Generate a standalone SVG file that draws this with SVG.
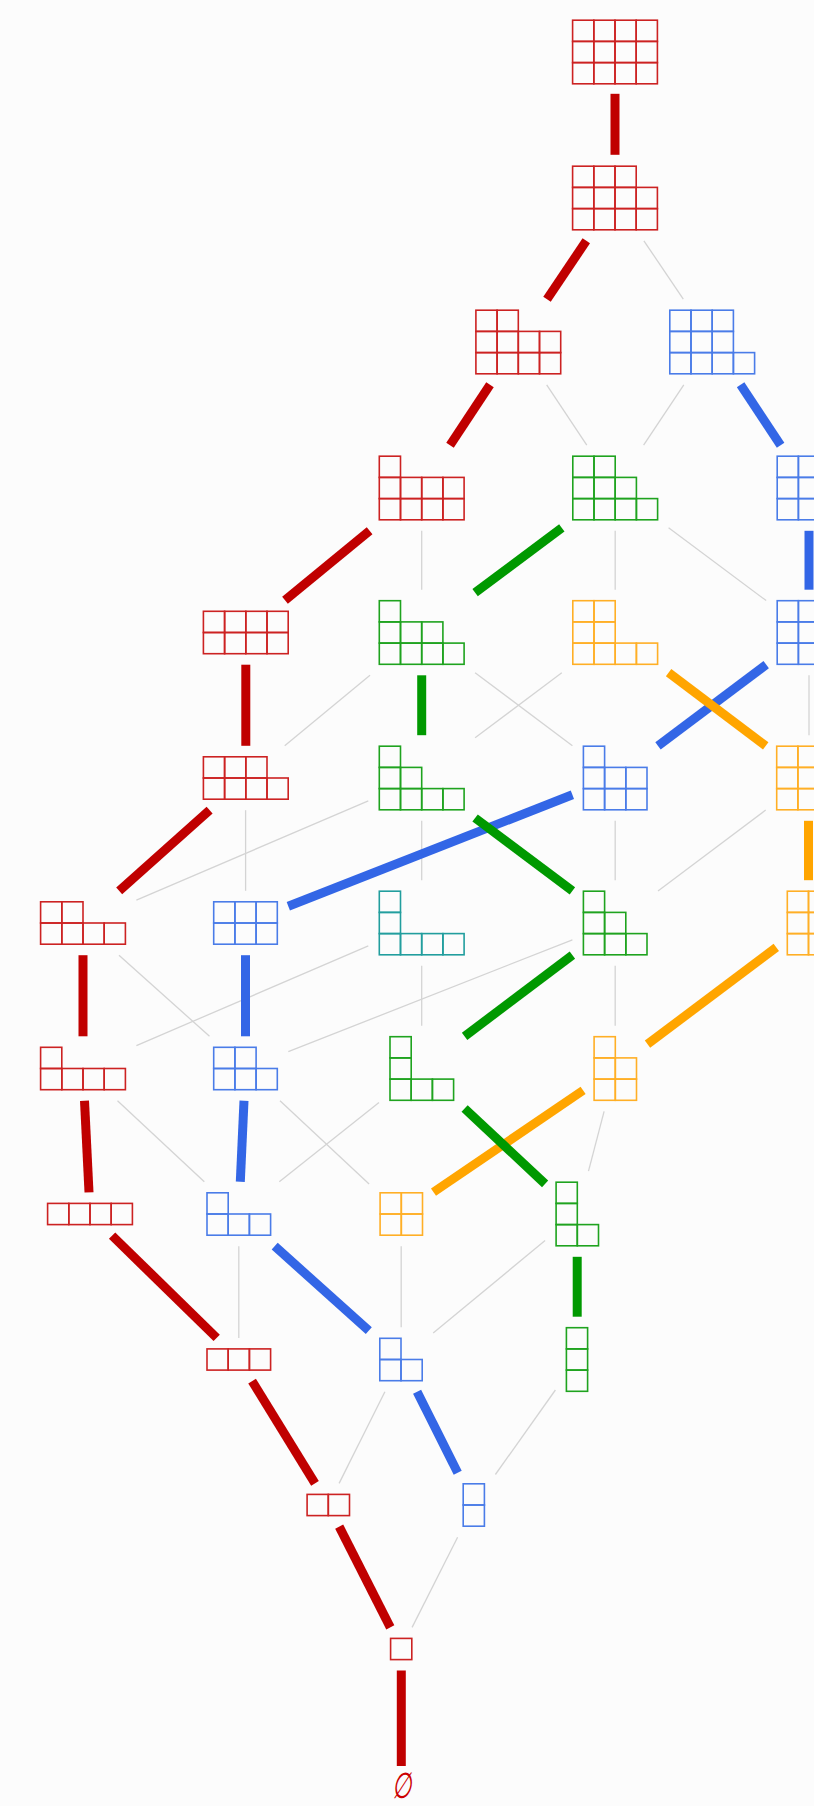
<svg xmlns="http://www.w3.org/2000/svg" xmlns:xlink="http://www.w3.org/1999/xlink" width="814" height="1806" viewBox="0 0 814 1806">
<style>
.n{fill:none;stroke-width:1.6}
.red{stroke:#cc2222}
.blue{stroke:#4a7ce8}
.green{stroke:#1fa31f}
.orange{stroke:#ffaf26}
.teal{stroke:#229e9e}
.g line{stroke:#d4d4d4;stroke-width:1.3}
.t{fill:none;stroke-width:9;stroke-linecap:butt}
.er{stroke:#c00000}
.eb{stroke:#3366e6}
.eg{stroke:#009900}
.eo{stroke:#ffa500}
.lbl{font-family:"Liberation Serif","DejaVu Serif",serif;font-size:36px;fill:#cc0000;font-style:italic}
</style>
<defs>
<rect id="c" width="21.2" height="21.2"/>
<g id="r1"><use xlink:href="#c"/></g>
<g id="r2"><use xlink:href="#c"/><use xlink:href="#c" x="21.2"/></g>
<g id="r3"><use xlink:href="#c"/><use xlink:href="#c" x="21.2"/><use xlink:href="#c" x="42.4"/></g>
<g id="r4"><use xlink:href="#c"/><use xlink:href="#c" x="21.2"/><use xlink:href="#c" x="42.4"/><use xlink:href="#c" x="63.6"/></g>
</defs>
<rect width="814" height="1806" fill="#fcfcfc"/>
<g id="connectors">
<g class="g">
<line x1="643.9" y1="240.8" x2="683.3" y2="299.2"/>
<line x1="546.7" y1="384.8" x2="586.8" y2="445.2"/>
<line x1="683.8" y1="384.8" x2="643.6" y2="445.2"/>
<line x1="421.7" y1="530.8" x2="421.7" y2="589.7"/>
<line x1="615.2" y1="530.8" x2="615.2" y2="589.7"/>
<line x1="668.6" y1="527.8" x2="766.2" y2="600.6"/>
<line x1="370" y1="675.3" x2="284.7" y2="745.8"/>
<line x1="475.1" y1="672.7" x2="572.4" y2="745.8"/>
<line x1="561.8" y1="672.7" x2="475.1" y2="737.8"/>
<line x1="809" y1="675.3" x2="809" y2="735.2"/>
<line x1="245.6" y1="810.2" x2="245.6" y2="890.8"/>
<line x1="368.3" y1="800.9" x2="136.4" y2="900.1"/>
<line x1="421.7" y1="820.8" x2="421.7" y2="880.2"/>
<line x1="615.2" y1="820.8" x2="615.2" y2="880.2"/>
<line x1="765.7" y1="810.1" x2="658" y2="890.9"/>
<line x1="119" y1="955.2" x2="209.5" y2="1036.3"/>
<line x1="368.3" y1="945.9" x2="136.4" y2="1045.6"/>
<line x1="421.7" y1="965.8" x2="421.7" y2="1025.7"/>
<line x1="572.4" y1="939.8" x2="288.3" y2="1051.7"/>
<line x1="615.2" y1="965.8" x2="615.2" y2="1025.7"/>
<line x1="117.5" y1="1100.7" x2="204.3" y2="1181.8"/>
<line x1="280" y1="1100.7" x2="369.1" y2="1183.9"/>
<line x1="379" y1="1102.5" x2="279.3" y2="1181.8"/>
<line x1="604.1" y1="1111.3" x2="588.5" y2="1171.2"/>
<line x1="238.8" y1="1246.2" x2="238.8" y2="1337.9"/>
<line x1="401.2" y1="1246.2" x2="401.2" y2="1327.3"/>
<line x1="545.1" y1="1240.6" x2="433.2" y2="1332.9"/>
<line x1="384.9" y1="1391.7" x2="339.1" y2="1483.4"/>
<line x1="555.4" y1="1390" x2="495.4" y2="1474.5"/>
<line x1="457.6" y1="1537.2" x2="412.1" y2="1627.4"/>
</g>
<g class="t eb">
<line x1="740.6" y1="384.8" x2="780.6" y2="445.2"/>
<line x1="809" y1="530.8" x2="809" y2="589.7"/>
<line x1="766.2" y1="664.6" x2="658" y2="745.9"/>
<line x1="572.4" y1="794.8" x2="288.3" y2="906.2"/>
<line x1="245.5" y1="955.2" x2="245.5" y2="1036.3"/>
<line x1="244" y1="1100.7" x2="240.3" y2="1181.8"/>
<line x1="274.7" y1="1246.2" x2="368.8" y2="1330.6"/>
<line x1="417.1" y1="1391.7" x2="457.7" y2="1472.8"/>
</g>
<g class="t eo">
<line x1="668.6" y1="672.7" x2="765.7" y2="745.8"/>
<line x1="808.5" y1="820.8" x2="808.5" y2="880.2"/>
<line x1="776.3" y1="947.3" x2="647.5" y2="1044.2"/>
<line x1="583.1" y1="1090.4" x2="433.5" y2="1192.1"/>
</g>
<g class="t eg">
<line x1="561.8" y1="527.9" x2="475.1" y2="592.6"/>
<line x1="421.7" y1="675.3" x2="421.7" y2="735.2"/>
<line x1="475.1" y1="818" x2="572.4" y2="890.9"/>
<line x1="572.4" y1="955.2" x2="464.6" y2="1036.3"/>
<line x1="464.6" y1="1108.5" x2="545.1" y2="1183.9"/>
<line x1="577.2" y1="1256.8" x2="577.2" y2="1316.7"/>
</g>
<g class="t er">
<line x1="615" y1="93.8" x2="615" y2="154.8"/>
<line x1="586.3" y1="240.8" x2="547" y2="299.2"/>
<line x1="490" y1="384.8" x2="450" y2="445.2"/>
<line x1="369.6" y1="530.8" x2="285" y2="600.3"/>
<line x1="245.8" y1="664.7" x2="245.8" y2="745.8"/>
<line x1="209.6" y1="810.2" x2="119.2" y2="890.8"/>
<line x1="83" y1="955.2" x2="83" y2="1036.3"/>
<line x1="84.5" y1="1100.7" x2="89" y2="1192.4"/>
<line x1="112.1" y1="1235.6" x2="216.7" y2="1337.9"/>
<line x1="252.1" y1="1381.1" x2="315" y2="1483.4"/>
<line x1="339.2" y1="1526.6" x2="390.3" y2="1627.4"/>
<line x1="401.3" y1="1670.6" x2="401.3" y2="1766"/>
</g>
</g>
<g id="p444" class="n red"><use xlink:href="#r4" x="572.6" y="62.6"/><use xlink:href="#r4" x="572.6" y="41.4"/><use xlink:href="#r4" x="572.6" y="20.2"/></g>
<g id="p443" class="n red"><use xlink:href="#r4" x="572.6" y="208.6"/><use xlink:href="#r4" x="572.6" y="187.4"/><use xlink:href="#r3" x="572.6" y="166.2"/></g>
<g id="p442" class="n red"><use xlink:href="#r4" x="475.9" y="352.6"/><use xlink:href="#r4" x="475.9" y="331.4"/><use xlink:href="#r2" x="475.9" y="310.2"/></g>
<g id="p433" class="n blue"><use xlink:href="#r4" x="669.8" y="352.6"/><use xlink:href="#r3" x="669.8" y="331.4"/><use xlink:href="#r3" x="669.8" y="310.2"/></g>
<g id="p441" class="n red"><use xlink:href="#r4" x="379.3" y="498.6"/><use xlink:href="#r4" x="379.3" y="477.4"/><use xlink:href="#r1" x="379.3" y="456.2"/></g>
<g id="p432" class="n green"><use xlink:href="#r4" x="572.8" y="498.6"/><use xlink:href="#r3" x="572.8" y="477.4"/><use xlink:href="#r2" x="572.8" y="456.2"/></g>
<g id="p333" class="n blue"><use xlink:href="#r3" x="777.2" y="498.6"/><use xlink:href="#r3" x="777.2" y="477.4"/><use xlink:href="#r3" x="777.2" y="456.2"/></g>
<g id="p44" class="n red"><use xlink:href="#r4" x="203.4" y="632.5"/><use xlink:href="#r4" x="203.4" y="611.3"/></g>
<g id="p431" class="n green"><use xlink:href="#r4" x="379.3" y="643.1"/><use xlink:href="#r3" x="379.3" y="621.9"/><use xlink:href="#r1" x="379.3" y="600.7"/></g>
<g id="p422" class="n orange"><use xlink:href="#r4" x="572.8" y="643.1"/><use xlink:href="#r2" x="572.8" y="621.9"/><use xlink:href="#r2" x="572.8" y="600.7"/></g>
<g id="p332" class="n blue"><use xlink:href="#r3" x="777.2" y="643.1"/><use xlink:href="#r3" x="777.2" y="621.9"/><use xlink:href="#r2" x="777.2" y="600.7"/></g>
<g id="p43" class="n red"><use xlink:href="#r4" x="203.4" y="778"/><use xlink:href="#r3" x="203.4" y="756.8"/></g>
<g id="p421" class="n green"><use xlink:href="#r4" x="379.3" y="788.6"/><use xlink:href="#r2" x="379.3" y="767.4"/><use xlink:href="#r1" x="379.3" y="746.2"/></g>
<g id="p331" class="n blue"><use xlink:href="#r3" x="583.4" y="788.6"/><use xlink:href="#r3" x="583.4" y="767.4"/><use xlink:href="#r1" x="583.4" y="746.2"/></g>
<g id="p322" class="n orange"><use xlink:href="#r3" x="776.7" y="788.6"/><use xlink:href="#r2" x="776.7" y="767.4"/><use xlink:href="#r2" x="776.7" y="746.2"/></g>
<g id="p42" class="n red"><use xlink:href="#r4" x="40.6" y="923"/><use xlink:href="#r2" x="40.6" y="901.8"/></g>
<g id="p33" class="n blue"><use xlink:href="#r3" x="213.7" y="923"/><use xlink:href="#r3" x="213.7" y="901.8"/></g>
<g id="p411" class="n teal"><use xlink:href="#r4" x="379.3" y="933.6"/><use xlink:href="#r1" x="379.3" y="912.4"/><use xlink:href="#r1" x="379.3" y="891.2"/></g>
<g id="p321" class="n green"><use xlink:href="#r3" x="583.4" y="933.6"/><use xlink:href="#r2" x="583.4" y="912.4"/><use xlink:href="#r1" x="583.4" y="891.2"/></g>
<g id="p222" class="n orange"><use xlink:href="#r2" x="787.3" y="933.6"/><use xlink:href="#r2" x="787.3" y="912.4"/><use xlink:href="#r2" x="787.3" y="891.2"/></g>
<g id="p41" class="n red"><use xlink:href="#r4" x="40.6" y="1068.5"/><use xlink:href="#r1" x="40.6" y="1047.3"/></g>
<g id="p32" class="n blue"><use xlink:href="#r3" x="213.7" y="1068.5"/><use xlink:href="#r2" x="213.7" y="1047.3"/></g>
<g id="p311" class="n green"><use xlink:href="#r3" x="390" y="1079.1"/><use xlink:href="#r1" x="390" y="1057.9"/><use xlink:href="#r1" x="390" y="1036.7"/></g>
<g id="p221" class="n orange"><use xlink:href="#r2" x="594.1" y="1079.1"/><use xlink:href="#r2" x="594.1" y="1057.9"/><use xlink:href="#r1" x="594.1" y="1036.7"/></g>
<g id="p4" class="n red"><use xlink:href="#r4" x="47.6" y="1203.4"/></g>
<g id="p31" class="n blue"><use xlink:href="#r3" x="207" y="1214"/><use xlink:href="#r1" x="207" y="1192.8"/></g>
<g id="p22" class="n orange"><use xlink:href="#r2" x="380.1" y="1214"/><use xlink:href="#r2" x="380.1" y="1192.8"/></g>
<g id="p211" class="n green"><use xlink:href="#r2" x="556.1" y="1224.6"/><use xlink:href="#r1" x="556.1" y="1203.4"/><use xlink:href="#r1" x="556.1" y="1182.2"/></g>
<g id="p3" class="n red"><use xlink:href="#r3" x="207" y="1348.9"/></g>
<g id="p21" class="n blue"><use xlink:href="#r2" x="379.8" y="1359.5"/><use xlink:href="#r1" x="379.8" y="1338.3"/></g>
<g id="p111" class="n green"><use xlink:href="#r1" x="566.4" y="1370.1"/><use xlink:href="#r1" x="566.4" y="1348.9"/><use xlink:href="#r1" x="566.4" y="1327.7"/></g>
<g id="p2" class="n red"><use xlink:href="#r2" x="307.1" y="1494.4"/></g>
<g id="p11" class="n blue"><use xlink:href="#r1" x="463.2" y="1505"/><use xlink:href="#r1" x="463.2" y="1483.8"/></g>
<g id="p1" class="n red"><use xlink:href="#r1" x="390.6" y="1638.4"/></g>
<g id="p0"><text class="lbl" transform="translate(401.5,1798) scale(0.62,1)" x="0" y="0" text-anchor="middle">∅</text></g>
</svg>
